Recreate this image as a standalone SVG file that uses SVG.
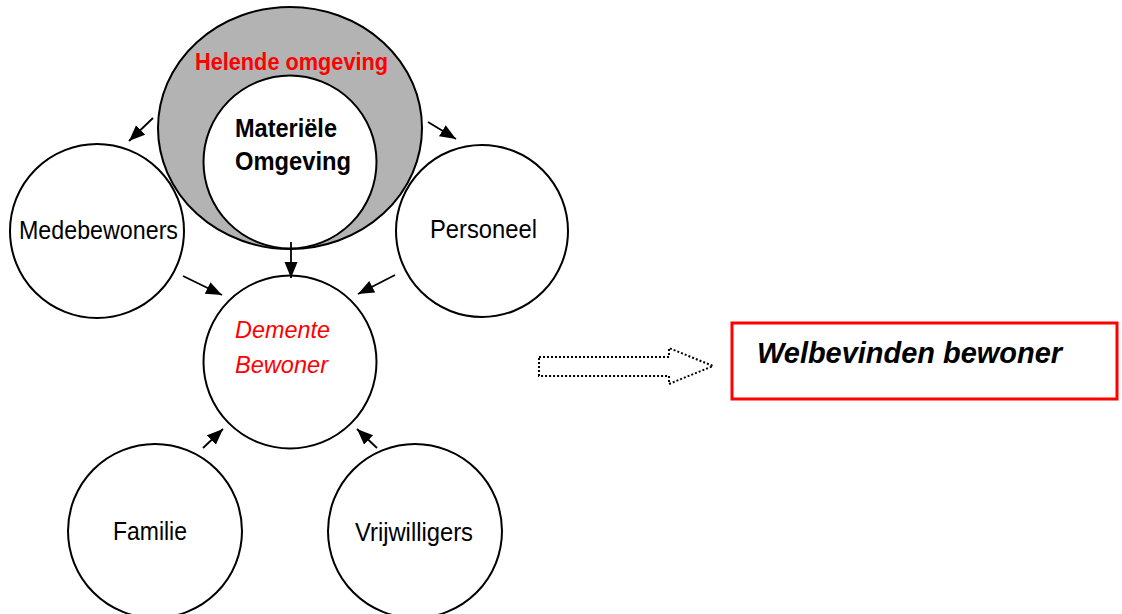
<svg xmlns="http://www.w3.org/2000/svg" width="1122" height="614" viewBox="0 0 1122 614">
<style>
.node{fill:#fff;stroke:#000;stroke-width:2}
.lbl{font-family:"Liberation Sans",Arial,sans-serif;font-size:25px;fill:#000}
.conn{stroke:#000;stroke-width:1.8;fill:none}
</style>
<defs>
<marker id="ah" markerUnits="userSpaceOnUse" markerWidth="17" markerHeight="15" refX="16" refY="6.5" orient="auto">
<path d="M0,0 L16,6.5 L0,13 Z" fill="#000"/>
</marker>
</defs>
<rect width="1122" height="614" fill="#fff"/>
<g id="medebewoners">
<circle class="node" cx="97" cy="231" r="87"/>
<text class="lbl" x="19" y="239" textLength="159" lengthAdjust="spacingAndGlyphs">Medebewoners</text>
</g>
<g id="personeel">
<circle class="node" cx="482" cy="231" r="86"/>
<text class="lbl" x="430" y="238" textLength="107" lengthAdjust="spacingAndGlyphs">Personeel</text>
</g>
<g id="helende-omgeving">
<ellipse cx="290" cy="128" rx="132" ry="121" fill="#b3b3b3" stroke="#000" stroke-width="2"/>
<text x="195" y="70" textLength="193" lengthAdjust="spacingAndGlyphs" style="font-family:'Liberation Sans',Arial,sans-serif;font-size:24px;font-weight:bold;fill:#f00">Helende omgeving</text>
</g>
<g id="materiele-omgeving">
<circle class="node" cx="290" cy="162" r="86.5"/>
<text x="235" y="137" textLength="102" lengthAdjust="spacingAndGlyphs" style="font-family:'Liberation Sans',Arial,sans-serif;font-size:25.5px;font-weight:bold;fill:#000">Materiële</text>
<text x="235" y="170" textLength="116" lengthAdjust="spacingAndGlyphs" style="font-family:'Liberation Sans',Arial,sans-serif;font-size:25.5px;font-weight:bold;fill:#000">Omgeving</text>
</g>
<g id="demente-bewoner">
<circle class="node" cx="290" cy="362" r="86.5"/>
<text x="235" y="338" textLength="95" lengthAdjust="spacingAndGlyphs" style="font-family:'Liberation Sans',Arial,sans-serif;font-size:24.5px;font-style:italic;fill:#f00">Demente</text>
<text x="235" y="373" textLength="93" lengthAdjust="spacingAndGlyphs" style="font-family:'Liberation Sans',Arial,sans-serif;font-size:24.5px;font-style:italic;fill:#f00">Bewoner</text>
</g>
<g id="familie">
<circle class="node" cx="155" cy="531" r="87"/>
<text class="lbl" x="113" y="540" textLength="74" lengthAdjust="spacingAndGlyphs">Familie</text>
</g>
<g id="vrijwilligers">
<circle class="node" cx="415" cy="531" r="87"/>
<text class="lbl" x="355" y="541" textLength="118" lengthAdjust="spacingAndGlyphs">Vrijwilligers</text>
</g>
<g id="welbevinden">
<rect x="732" y="323" width="385" height="76" fill="#fff" stroke="#f00" stroke-width="3"/>
<text x="757" y="363" textLength="305" lengthAdjust="spacingAndGlyphs" style="font-family:'Liberation Sans',Arial,sans-serif;font-size:29px;font-weight:bold;font-style:italic;fill:#000">Welbevinden bewoner</text>
</g>
<g id="connectors">
<line class="conn" x1="153" y1="118" x2="129" y2="141" marker-end="url(#ah)"/>
<line class="conn" x1="428" y1="122" x2="456" y2="139" marker-end="url(#ah)"/>
<line class="conn" x1="291" y1="242" x2="291" y2="278" marker-end="url(#ah)"/>
<line class="conn" x1="183" y1="276" x2="222" y2="295" marker-end="url(#ah)"/>
<line class="conn" x1="395" y1="275" x2="358" y2="294" marker-end="url(#ah)"/>
<line class="conn" x1="203" y1="448" x2="223" y2="429" marker-end="url(#ah)"/>
<line class="conn" x1="377" y1="448" x2="357" y2="429" marker-end="url(#ah)"/>
<polygon points="539,357 669,357 669,348 713,366 669,384 669,376 539,376" fill="none" stroke="#000" stroke-width="2" stroke-dasharray="2,2"/>
</g>
</svg>
